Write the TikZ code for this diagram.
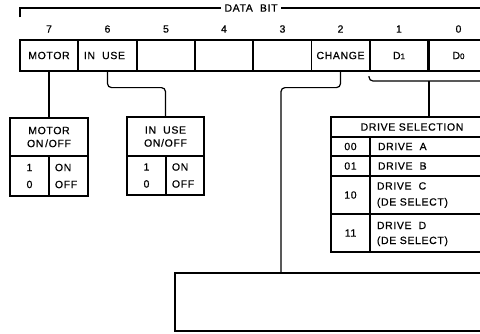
\documentclass[tikz,border=0pt]{standalone}
\usepackage{fontspec}
\setmainfont{Liberation Sans}[LetterSpace=6,FakeBold=0.6]
\begin{document}
\begin{tikzpicture}[x=1pt,y=-1pt,line width=1.2pt,
  font=\fontsize{10.5}{12}\selectfont,
  cellbox/.style={draw,inner sep=0pt,minimum width=58pt,minimum height=31pt},
  bx/.style 2 args={draw,inner sep=0pt,minimum width=#1pt,minimum height=#2pt,align=center},
  conn/.style={rounded corners=4pt}]
\useasboundingbox (0,0) rectangle (480,333);
\clip (0,0) rectangle (480,333);
% register cells
\node[cellbox] (c7) at (49,55.5) {MOTOR};
\node[cellbox] (c6) at (107.5,55.5) {};
\node[anchor=west] (t6) at (80,55.5) {IN\ \ USE};
\node[cellbox] (c5) at (166,55.5) {};
\node[cellbox] (c4) at (224,55.5) {};
\node[cellbox] (c3) at (282.5,55.5) {};
\node[cellbox] (c2) at (340.5,55.5) {CHANGE};
\node[cellbox] (c1) at (399,55.5) {D{\fontsize{8}{9}\selectfont 1}};
\node[cellbox] (c0) at (458.5,55.5) {D{\fontsize{8}{9}\selectfont 0}};
% digits
\foreach \n in {7,6,5,4,3,2,1,0}{
  \node (d\n) at (c\n.north |- 0,29) {\n};
}
% data bit bracket
\node (db) at (251,8) {DATA\ \ BIT};
\coordinate (tl) at (20,17);
\coordinate (tr) at (500,8);
\draw (tl) |- (db.west);
\draw (db.east) -- (tr);
% motor table
\node[bx={78}{38}] (mh) at (49,137) {MOTOR\\[1pt]ON\,/OFF};
\node[bx={39}{40}] (ml) at (29.5,176) {1\\[5pt]0};
\node[bx={39}{40}] (mr) at (68.5,176) {};
\node[anchor=west,align=left] (mrt) at (51,176) {ON\\[5pt]OFF};
% in use table
\node[bx={77}{39}] (ih) at (165.5,136.5) {IN\ \ USE\\[1pt]ON/OFF};
\node[bx={39}{39}] (il) at (146.5,175.5) {1\\[5pt]0};
\node[bx={38}{39}] (ir) at (185,175.5) {};
\node[anchor=west,align=left] (irt) at (168,175.5) {ON\\[5pt]OFF};
% drive selection table
\node[bx={162}{20}] (dh) at (412,127) {DRIVE SELECTION};
\node[bx={39}{19}] (k0) at (350.5,146.5) {00};
\node[bx={123}{19}] (v0) at (431.5,146.5) {};
\node[anchor=west] (w0) at (374,146.5) {DRIVE\ \ A};
\node[bx={39}{20}] (k1) at (350.5,166) {01};
\node[bx={123}{20}] (v1) at (431.5,166) {};
\node[anchor=west] (w1) at (374,166) {DRIVE\ \ B};
\node[bx={39}{38}] (k2) at (350.5,195) {10};
\node[bx={123}{38}] (v2) at (431.5,195) {};
\node[anchor=west,align=left] (w2) at (373,195) {DRIVE\ \ C\\[4pt](DE SELECT)};
\node[bx={39}{38}] (k3) at (350.5,233) {11};
\node[bx={123}{38}] (v3) at (431.5,233) {};
\node[anchor=west,align=left] (w3) at (373,234) {DRIVE\ \ D\\[3pt](DE SELECT)};
% bottom box
\node[bx={325}{58}] (bb) at (337.5,302) {};
% connectors
\draw (c7.south) -- (mh.north);
\draw[conn] (c6.south) -- ++(0,16) -| (ih.north);
\coordinate (chg) at (281,273);
\draw[conn] (c2.south) -- ++(0,16) -| (chg);
\coordinate (brl) at (369,76);
\coordinate (brm) at (429,81);
\coordinate (brr) at (500,81);
\draw[conn] (brl) |- (brr);
\draw (brm) -- (brm |- dh.north);
\end{tikzpicture}
\end{document}
